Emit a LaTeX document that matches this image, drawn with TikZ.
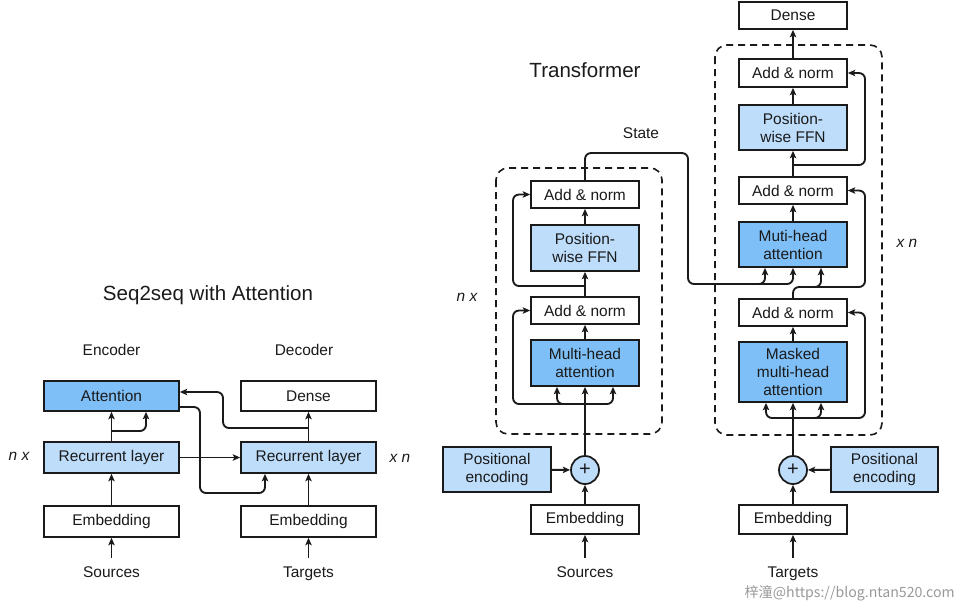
\documentclass[tikz,border=0pt]{standalone}
\usepackage{fontspec}
\setmainfont{Liberation Sans}
\newfontfamily\cjkf{Noto Sans CJK SC}
\usetikzlibrary{arrows.meta,calc}
\definecolor{mblue}{HTML}{7FBFF8}
\definecolor{lblue}{HTML}{BEDDFB}
\definecolor{ink}{HTML}{1A1A1A}
\begin{document}
\begin{tikzpicture}[x=0.75pt,y=-0.75pt,
  wh/.style 2 args={minimum width=#1*0.75pt, minimum height=#2*0.75pt},
  box/.style={draw=ink, line width=1.3pt, inner sep=0pt, align=center, text=ink,
    font=\fontsize{11.6}{13.5}\selectfont},
  lab/.style={inner sep=0pt, text=ink, font=\fontsize{11.6}{13.5}\selectfont},
  ilab/.style={inner sep=0pt, text=ink, font=\fontsize{11.6}{13.5}\selectfont\itshape},
  ttl/.style={inner sep=0pt, text=ink, font=\fontsize{15.4}{18}\selectfont},
  arr/.style={draw=ink, line width=1.4pt, -{Stealth[length=5.5pt,width=4.8pt,inset=1.2pt]}},
  rc/.style={rounded corners=4.5pt},
  grp/.style={draw=ink, line width=1.2pt, dash pattern=on 5.3pt off 3.7pt, rounded corners=9pt}
]
\useasboundingbox (0,0) rectangle (960,608);

% ---------------- Seq2seq with attention ----------------
\node[ttl, anchor=base] (t1) at (208,300) {Seq2seq with Attention};
\node[lab, anchor=base] (encl) at (111.5,355) {Encoder};
\node[lab, anchor=base] (decl) at (304,355) {Decoder};

\node[box, fill=mblue, wh={135}{30}] (att) at (111.5,396) {Attention};
\node[box, fill=white, wh={135}{30}] (ldense) at (308.5,396) {Dense};
\node[box, fill=lblue, wh={135}{31}] (erec) at (111.5,457.5) {Recurrent layer};
\node[box, fill=lblue, wh={135}{31}] (drec) at (308.5,457.5) {Recurrent layer};
\node[box, fill=white, wh={135}{31}] (eemb) at (111.5,521.5) {Embedding};
\node[box, fill=white, wh={135}{31}] (demb) at (308.5,521.5) {Embedding};
\node[lab, anchor=base] (src) at (111.5,577) {Sources};
\node[lab, anchor=base] (tgt) at (308.5,577) {Targets};
\node[ilab] (nx1) at (19,456) {n x};
\node[ilab] (xn1) at (400,458) {x n};

\draw[arr] ($(src.base)+(0,-19)$) -- (eemb.south);
\draw[arr] ($(tgt.base)+(0,-19)$) -- (demb.south);
\draw[arr] (eemb) -- (erec);
\draw[arr] (demb) -- (drec);
\draw[arr] (erec) -- (att);
\coordinate (b1) at (111.5,431);
\draw[arr,rc] (b1) -| ($(att.south)+(34.5,0)$);
\draw[arr] (erec.east) -- (drec.west);
\draw[arr,rc] ($(att.east)+(0,11)$) -| (200,493) -| ($(drec.south)+(-43.5,0)$);
\draw[arr] (drec) -- (ldense);
\coordinate (b2) at (308.5,428);
\draw[arr,rc] (b2) -| (223,392) -- ($(att.east)+(0,-4)$);

% ---------------- Transformer ----------------
\node[ttl, anchor=base] (t2) at (585,77) {Transformer};
\node[lab, anchor=base] (state) at (641,138) {State};

% encoder group
\draw[grp] (496,168) rectangle (662,434);
\node[box, fill=white, wh={108}{27}] (ean2) at (585,194.5) {Add \& norm};
\node[box, fill=lblue, wh={108}{46}] (effn) at (585,248) {Position-\\wise FFN};
\node[box, fill=white, wh={108}{27}] (ean1) at (585,310.5) {Add \& norm};
\node[box, fill=mblue, wh={108}{46}] (emha) at (585,363) {Multi-head\\attention};
\node[box, fill=lblue, wh={108}{45}] (epos) at (497,469.5) {Positional\\encoding};
\node[box, fill=lblue, circle, minimum size=21pt, font=\fontsize{15}{15}\selectfont] (eplus) at (585,470) {+};
\node[box, fill=white, wh={108}{29}] (eemb2) at (585,519.5) {Embedding};
\node[lab, anchor=base] (src2) at (585,577) {Sources};
\node[ilab] (nx2) at (467,297) {n x};

% decoder group
\node[box, fill=white, wh={108}{27}] (tdense) at (793,15.5) {Dense};
\draw[grp] (715,45) rectangle (882,435);
\node[box, fill=white, wh={108}{28}] (dan3) at (793,73) {Add \& norm};
\node[box, fill=lblue, wh={108}{45}] (dffn) at (793,127.5) {Position-\\wise FFN};
\node[box, fill=white, wh={108}{27}] (dan2) at (793,190.5) {Add \& norm};
\node[box, fill=mblue, wh={108}{45}] (dmha) at (793,244.5) {Muti-head\\attention};
\node[box, fill=white, wh={108}{27}] (dan1) at (793,312.5) {Add \& norm};
\node[box, fill=mblue, wh={108}{60}] (dmmha) at (793,372) {Masked\\multi-head\\attention};
\node[box, fill=lblue, circle, minimum size=21pt, font=\fontsize{15}{15}\selectfont] (dplus) at (793,470) {+};
\node[box, fill=lblue, wh={107}{45}] (dpos) at (884.5,469.5) {Positional\\encoding};
\node[box, fill=white, wh={108}{29}] (demb2) at (793,519.5) {Embedding};
\node[lab, anchor=base] (tgt2) at (793,577) {Targets};
\node[ilab] (xn2) at (907,243) {x n};

% encoder connectors
\draw[arr] ($(src2.base)+(0,-19)$) -- (eemb2.south);
\draw[arr] (eemb2) -- (eplus);
\draw[arr] (epos) -- (eplus);
\draw[arr] (eplus) -- (emha);
\coordinate (b3) at (585,404);
\draw[arr,rc] (b3) -| ($(emha.south)+(-28,0)$);
\draw[arr,rc] (b3) -| ($(emha.south)+(28,0)$);
\draw[arr,rc] (b3) -| (513,310.5) -- (ean1.west);
\draw[arr] (emha) -- (ean1);
\draw[arr] (ean1) -- (effn);
\coordinate (b4) at (585,286);
\draw[arr,rc] (b4) -| (513,194.5) -- (ean2.west);
\draw[arr] (effn) -- (ean2);

% state to decoder
\draw[arr,rc] (ean2.north) |- (688,153) |- (740,284) -| ($(dmha.south)+(-28,0)$);
\coordinate (st) at (750,284);
\draw[arr,rc] (st) -| (dmha.south);

% decoder connectors
\draw[arr] ($(tgt2.base)+(0,-19)$) -- (demb2.south);
\draw[arr] (demb2) -- (dplus);
\draw[arr] (dpos) -- (dplus);
\draw[arr] (dplus) -- (dmmha);
\coordinate (b5) at (793,418);
\draw[arr,rc] (b5) -| ($(dmmha.south)+(-27,0)$);
\draw[arr,rc] (b5) -| ($(dmmha.south)+(28,0)$);
\draw[arr,rc] (b5) -| (865,312.5) -- (dan1.east);
\draw[arr] (dmmha) -- (dan1);
\draw[arr,rc] (dan1.north) |- (808,287) -| ($(dmha.south)+(28,0)$);
\coordinate (b7) at (810,287);
\draw[arr,rc] (b7) -| (865,190.5) -- (dan2.east);
\draw[arr] (dmha) -- (dan2);
\draw[arr] (dan2) -- (dffn);
\coordinate (b6) at (793,165);
\draw[arr,rc] (b6) -| (865,73) -- (dan3.east);
\draw[arr] (dffn) -- (dan3);
\draw[arr] (dan3) -- (tdense);

% watermark
\node[inner sep=0pt, anchor=base east, text=black!40, font=\cjkf\fontsize{10.6}{12}\selectfont] (wm) at (955,597) {梓潼@https://blog.ntan520.com};
\end{tikzpicture}
\end{document}
